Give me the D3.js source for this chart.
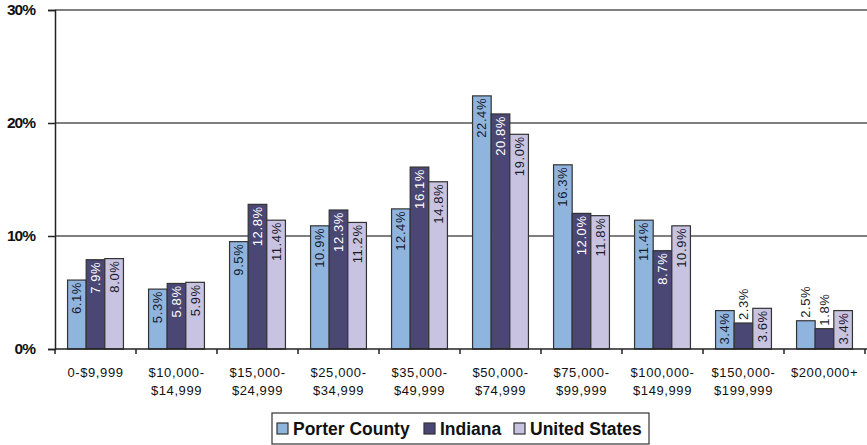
<!DOCTYPE html>
<html>
<head>
<meta charset="utf-8">
<script src="https://cdn.jsdelivr.net/npm/d3@7/dist/d3.min.js"></script>
<style>
 body { margin:0; background:#fff; }
 text { font-family: "Liberation Sans", Arial, sans-serif; }
</style>
</head>
<body>
<div id="chart"></div>
<script>
// income brackets (two-line labels)
var categories = ["0-$9,999", "$10,000-\n$14,999", "$15,000-\n$24,999", "$25,000-\n$34,999",
                  "$35,000-\n$49,999", "$50,000-\n$74,999", "$75,000-\n$99,999",
                  "$100,000-\n$149,999", "$150,000-\n$199,999", "$200,000+"];
var seriesNames = ["Porter County", "Indiana", "United States"];
var porter = [6.1, 5.3, 9.5, 10.9, 12.4, 22.4, 16.3, 11.4, 3.4, 2.5];
var indiana = [7.9, 5.8, 12.8, 12.3, 16.1, 20.8, 12.0, 8.7, 2.3, 1.8];
var usa = [8.0, 5.9, 11.4, 11.2, 14.8, 19.0, 11.8, 10.9, 3.6, 3.4];
var yTicks = [0, 10, 20, 30];

var colors = ["#8fb4de", "#4a4775", "#c8c3e0"];
var labelColors = ["#1a1a2a", "#ffffff", "#1a1a2a"];

var W = 867, H = 445;
var mLeft = 55, mRight = 865, mTop = 10, mBottom = 349;

var svg = d3.select("#chart").append("svg")
    .attr("width", W)
    .attr("height", H);

var x0 = d3.scaleBand()
    .domain(d3.range(categories.length))
    .range([mLeft, mRight])
    .paddingInner(0.31)
    .paddingOuter(0.155);

var x1 = d3.scaleBand()
    .domain(d3.range(seriesNames.length))
    .range([0, x0.bandwidth()]);

var y = d3.scaleLinear()
    .domain([0, 30])
    .range([mBottom, mTop]);

// gridlines
svg.append("g").selectAll("line")
    .data(yTicks.slice(1))
    .enter().append("line")
    .attr("x1", mLeft).attr("x2", W)
    .attr("y1", function(d) { return y(d); })
    .attr("y2", function(d) { return y(d); })
    .attr("stroke", "#555")
    .attr("stroke-width", 1.5);

// y axis
var yAxis = d3.axisLeft(y)
    .tickValues(yTicks)
    .tickSize(7)
    .tickFormat(function(d) { return d + "%"; });
var gy = svg.append("g")
    .attr("transform", "translate(" + mLeft + ",0)")
    .call(yAxis);
gy.select(".domain").attr("stroke", "#222").attr("stroke-width", 1.5);
gy.selectAll(".tick line").attr("stroke", "#222").attr("stroke-width", 1.5);
gy.selectAll(".tick text")
    .attr("x", -20)
    .attr("font-size", 15.5)
    .attr("font-weight", "bold")
    .attr("letter-spacing", -1)
    .attr("fill", "#111")
    .style("font-family", "'Liberation Sans', Arial, sans-serif");

var data = categories.map(function(c, i) {
    return [porter[i], indiana[i], usa[i]];
});

// bars
var groups = svg.append("g").selectAll("g")
    .data(data)
    .enter().append("g")
    .attr("transform", function(d, i) { return "translate(" + x0(i) + ",0)"; });

groups.selectAll("rect")
    .data(function(d) { return d; })
    .enter().append("rect")
    .attr("x", function(d, j) { return x1(j); })
    .attr("y", function(d) { return y(d); })
    .attr("width", x1.bandwidth())
    .attr("height", function(d) { return y(0) - y(d); })
    .attr("fill", function(d, j) { return colors[j]; })
    .attr("stroke", "#333")
    .attr("stroke-width", 1.2);

// value labels, rotated; short bars get the label above
function outside(d) { return (y(0) - y(d)) < 36; }
groups.selectAll("text.val")
    .data(function(d) { return d; })
    .enter().append("text")
    .attr("class", "val")
    .attr("transform", function(d, j) {
        var cx = x1(j) + x1.bandwidth() / 2;
        return "translate(" + cx + "," + y(d) + ") rotate(-90)";
    })
    .attr("x", function(d) { return outside(d) ? 3 : -2; })
    .attr("dy", "0.35em")
    .attr("text-anchor", function(d) { return outside(d) ? "start" : "end"; })
    .attr("font-size", 13)
    .attr("letter-spacing", 0.6)
    .attr("fill", function(d, j) { return outside(d) ? "#1a1a2a" : labelColors[j]; })
    .text(function(d) { return d.toFixed(1) + "%"; });

// x axis
svg.append("line")
    .attr("x1", mLeft).attr("x2", W)
    .attr("y1", mBottom).attr("y2", mBottom)
    .attr("stroke", "#222").attr("stroke-width", 1.5);

var step = x0.step();
svg.append("g").selectAll("line")
    .data(d3.range(categories.length + 1))
    .enter().append("line")
    .attr("x1", function(i) { return mLeft + i * step; })
    .attr("x2", function(i) { return mLeft + i * step; })
    .attr("y1", mBottom).attr("y2", mBottom + 5)
    .attr("stroke", "#222").attr("stroke-width", 1.5);

var catText = svg.append("g").selectAll("text")
    .data(categories)
    .enter().append("text")
    .attr("x", function(d, i) { return x0(i) + x0.bandwidth() / 2; })
    .attr("y", 377)
    .attr("text-anchor", "middle")
    .attr("font-size", 13)
    .attr("letter-spacing", 0.6)
    .attr("fill", "#111");
catText.each(function(d) {
    var t = d3.select(this);
    d.split("\n").forEach(function(line, k) {
        t.append("tspan")
            .attr("x", t.attr("x"))
            .attr("dy", k === 0 ? 0 : 18)
            .text(line);
    });
});

// legend
var legend = svg.append("g");
legend.append("rect")
    .attr("x", 272).attr("y", 413)
    .attr("width", 377).attr("height", 31)
    .attr("fill", "#fff")
    .attr("stroke", "#333")
    .attr("stroke-width", 1.2);
var legX = [277, 424, 514];
var items = legend.selectAll("g.item")
    .data(seriesNames)
    .enter().append("g")
    .attr("class", "item")
    .attr("transform", function(d, i) { return "translate(" + legX[i] + ",423)"; });
items.append("rect")
    .attr("width", 11).attr("height", 11)
    .attr("fill", function(d, i) { return colors[i]; })
    .attr("stroke", "#333")
    .attr("stroke-width", 1.2);
items.append("text")
    .attr("x", 16)
    .attr("y", 6)
    .attr("dy", "0.36em")
    .attr("font-size", 17.5)
    .attr("font-weight", "bold")
    .attr("fill", "#111")
    .text(function(d) { return d; });
</script>
</body>
</html>
